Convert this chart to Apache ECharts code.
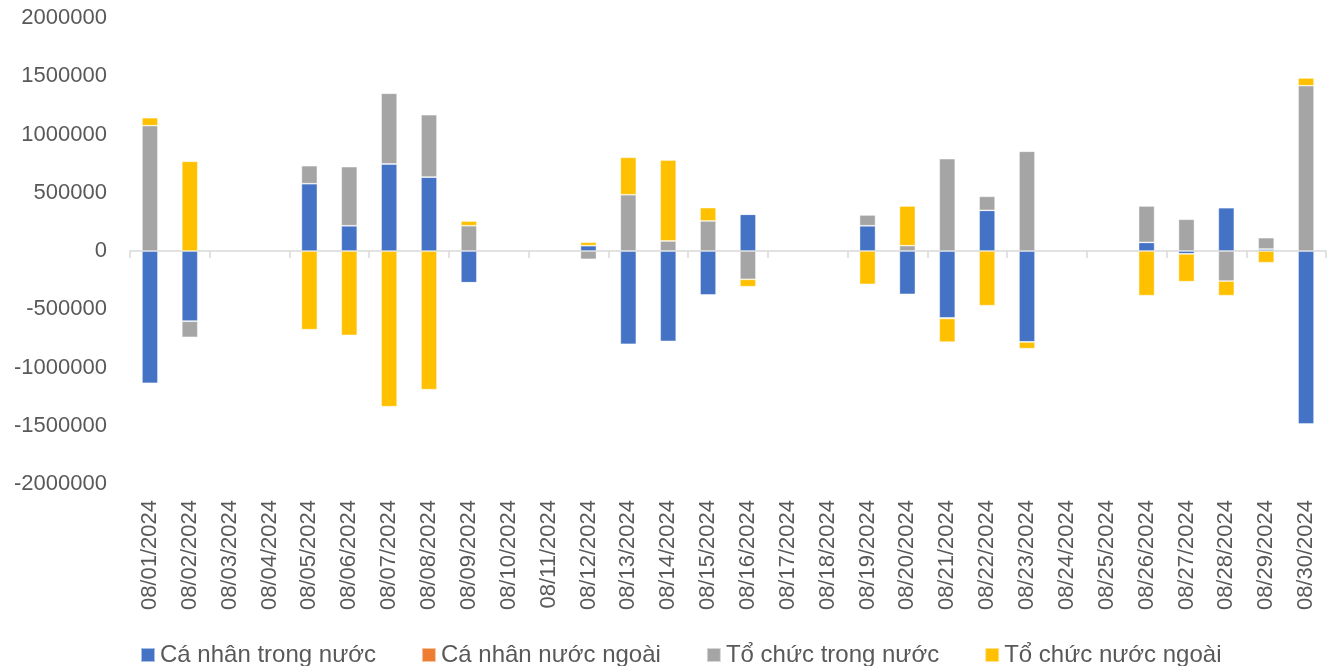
<!DOCTYPE html>
<html>
<head>
<meta charset="utf-8">
<script src="https://cdn.jsdelivr.net/npm/echarts@6/dist/echarts.min.js"></script>
<style>
  html, body { margin: 0; padding: 0; background: #fff; }
  #chart { width: 1337px; height: 666px; }
</style>
</head>
<body>
<div id="chart"></div>
<script>
// Trading days of August 2024
const dates = [
  '08/01/2024','08/02/2024','08/03/2024','08/04/2024','08/05/2024','08/06/2024',
  '08/07/2024','08/08/2024','08/09/2024','08/10/2024','08/11/2024','08/12/2024',
  '08/13/2024','08/14/2024','08/15/2024','08/16/2024','08/17/2024','08/18/2024',
  '08/19/2024','08/20/2024','08/21/2024','08/22/2024','08/23/2024','08/24/2024',
  '08/25/2024','08/26/2024','08/27/2024','08/28/2024','08/29/2024','08/30/2024'
];

const seriesNames = ['Cá nhân trong nước', 'Cá nhân nước ngoài', 'Tổ chức trong nước', 'Tổ chức nước ngoài'];

// Net values per investor group (null = no trading session)
const caNhanTrongNuoc = [
  -1136000, -603000, null, null, 578000, 217000,
  747000, 635000, -272000, null, null, 46000,
  -801000, -775000, -378000, 315000, null, null,
  217000, -372000, -575000, 349000, -781000, null,
  null, 74000, -25000, 372000, 17000, -1485000
];
const caNhanNuocNgoai = [
  0, 0, null, null, 0, 0,
  0, 0, 0, null, null, 0,
  0, -4000, 0, 0, null, null,
  0, -4000, -4000, 0, 0, null,
  null, 0, 0, 0, 0, 0
];
const toChucTrongNuoc = [
  1076000, -138000, null, null, 154000, 507000,
  607000, 535000, 217000, null, null, -71000,
  483000, 86000, 258000, -243000, null, null,
  92000, 46000, 792000, 120000, 856000, null,
  null, 312000, 272000, -258000, 97000, 1419000
];
const toChucNuocNgoai = [
  68000, 770000, null, null, -675000, -724000,
  -1336000, -1190000, 40000, null, null, 29000,
  321000, 695000, 114000, -63000, null, null,
  -286000, 340000, -203000, -469000, -57000, null,
  null, -383000, -238000, -125000, -100000, 66000
];

const colors = ['#4472C4', '#ED7D31', '#A5A5A5', '#FFC000'];
const values = [caNhanTrongNuoc, caNhanNuocNgoai, toChucTrongNuoc, toChucNuocNgoai];

const chart = echarts.init(document.getElementById('chart'), null, { renderer: 'canvas' });

const textColor = '#595959';
const axisGray = '#D9D9D9';
const font = '"Liberation Sans", Arial, sans-serif';

chart.setOption({
  animation: false,
  color: colors,
  textStyle: { fontFamily: font },
  grid: { left: 130, right: 11, top: 18, bottom: 182, containLabel: false },
  legend: {
    bottom: -1,
    left: 140,
    padding: 0,
    itemWidth: 14,
    itemHeight: 14,
    itemGap: 45,
    icon: 'rect',
    textStyle: { color: textColor, fontSize: 24, fontFamily: font },
    data: seriesNames
  },
  xAxis: [
    {
      // zero line with tick marks between days
      type: 'category',
      data: dates,
      position: 'top',
      axisLine: { onZero: true, lineStyle: { color: axisGray, width: 1.5 } },
      axisTick: { show: true, inside: true, length: 7, lineStyle: { color: axisGray, width: 1.5 } },
      axisLabel: { show: false },
      splitLine: { show: false }
    },
    {
      // date labels along the bottom edge
      type: 'category',
      data: dates,
      position: 'bottom',
      axisLine: { show: false, onZero: false },
      axisTick: { show: false },
      axisLabel: {
        rotate: 90,
        interval: 0,
        margin: 16,
        color: textColor,
        fontSize: 22,
        fontFamily: font
      },
      splitLine: { show: false }
    }
  ],
  yAxis: {
    type: 'value',
    min: -2000000,
    max: 2000000,
    interval: 500000,
    axisLine: { show: false },
    axisTick: { show: false },
    splitLine: { show: false },
    axisLabel: {
      color: textColor,
      fontSize: 22,
      margin: 23,
      fontFamily: font,
      formatter: (v) => String(v)
    }
  },
  series: seriesNames.map((name, i) => ({
    name,
    type: 'bar',
    stack: 'total',
    xAxisIndex: 0,
    barWidth: '40%',
    data: values[i],
    itemStyle: { color: colors[i], borderColor: 'rgba(255,255,255,0.55)', borderWidth: 0.75 }
  }))
});
</script>
</body>
</html>
